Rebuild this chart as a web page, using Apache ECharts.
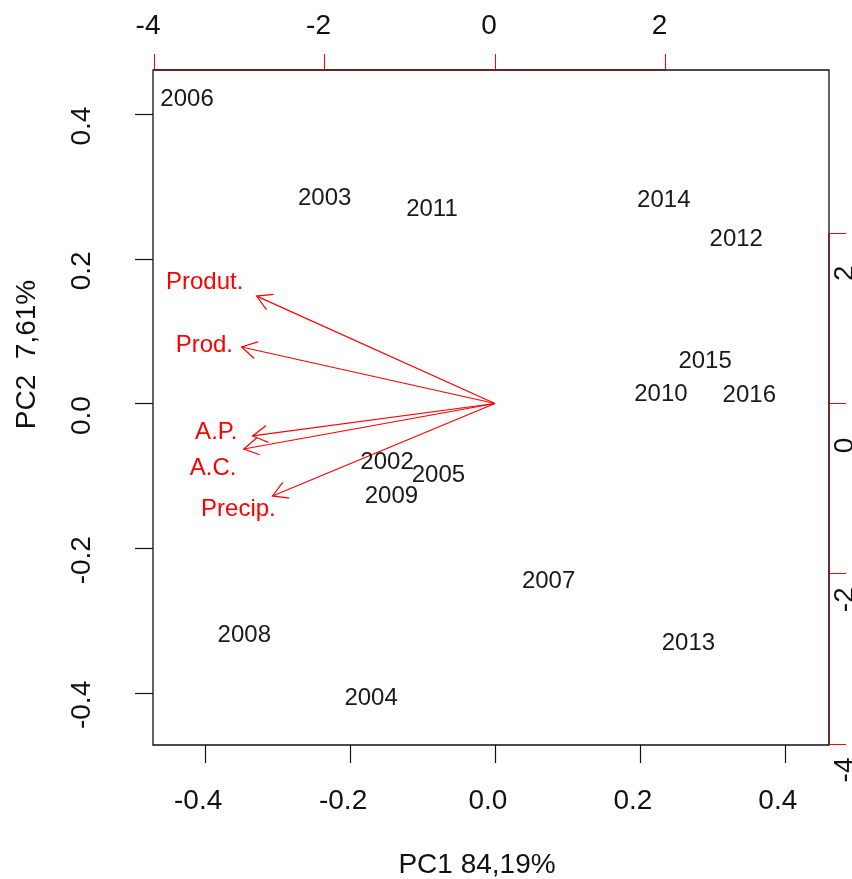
<!DOCTYPE html>
<html>
<head>
<meta charset="utf-8">
<script src="https://cdn.jsdelivr.net/npm/echarts@6/dist/echarts.min.js"></script>
<style>
  html, body { margin: 0; padding: 0; background: #fff; }
  #chart { width: 852px; height: 879px; }
</style>
</head>
<body>
<div id="chart"></div>
<script>
// PCA biplot: year scores (PC1 / PC2) and variable loadings drawn as arrows.
const years = ['2006', '2003', '2011', '2014', '2012', '2015', '2010', '2016',
               '2002', '2005', '2009', '2007', '2008', '2013', '2004'];
const pc1Scores = [-0.425, -0.235, -0.087, 0.233, 0.333, 0.290, 0.229, 0.351,
                   -0.149, -0.078, -0.143, 0.074, -0.346, 0.267, -0.171];
const pc2Scores = [0.420, 0.284, 0.269, 0.281, 0.227, 0.058, 0.012, 0.011,
                   -0.081, -0.099, -0.129, -0.246, -0.320, -0.331, -0.407];

// Variable loadings (secondary scale) and where their names sit.
const variables = ['Produt.', 'Prod.', 'A.P.', 'A.C.', 'Precip.'];
const loadPC1 = [-2.796, -2.972, -2.843, -2.948, -2.610];
const loadPC2 = [1.262, 0.664, -0.381, -0.534, -1.086];
const varLabelPC1 = [-3.406, -3.41, -3.27, -3.306, -3.01];
const varLabelPC2 = [1.42, 0.687, -0.340, -0.757, -1.24];

// Axis ticks
const scoreTicks = [-0.4, -0.2, 0.0, 0.2, 0.4];
const loadTicks = [-4, -2, 0, 2];

const xTitle = 'PC1 84,19%';
const yTitle = 'PC2  7,61%';

// Common limits for both score axes, loading axes are a scaled copy
const scoreLim = [-0.472, 0.461];
const loadRatio = 8.5;
const loadLim = scoreLim.map(v => v * loadRatio);

const FONT = '"Liberation Sans", Arial, Helvetica, sans-serif';
const TXT = '#111';
const RED = '#ff0000';
const AXRED = '#6e1616';

// rotated labels on the right axis sit a little below their ticks
const rightShift = { '2': 40, '0': 42, '-2': 26, '-4': 26 };
const rightRich = {};
loadTicks.forEach((t, i) => {
  rightRich['r' + i] = { fontSize: 28, fontFamily: FONT, color: TXT, padding: [0, rightShift[String(t)] * 2, 0, 0] };
});

const chart = echarts.init(document.getElementById('chart'), null, { renderer: 'canvas' });

const option = {
  animation: false,
  backgroundColor: '#fff',
  textStyle: { fontFamily: FONT },
  grid: {
    left: 153, right: 23, top: 70, bottom: 134,
    containLabel: false, outerBoundsMode: 'none',
    show: true, borderColor: '#111', borderWidth: 1.3, backgroundColor: 'transparent'
  },
  xAxis: [
    {
      type: 'value', position: 'bottom', min: scoreLim[0], max: scoreLim[1],
      splitLine: { show: false },
      axisLine: { show: false, onZero: false },
      axisTick: { show: true, customValues: scoreTicks, length: 18, lineStyle: { color: '#111', width: 1.2 } },
      axisLabel: {
        customValues: scoreTicks, formatter: v => v.toFixed(1),
        fontSize: 28, fontFamily: FONT, color: TXT, margin: 42, padding: [0, 14, 0, 0]
      },
      name: xTitle, nameLocation: 'middle', nameGap: 106,
      nameTextStyle: { fontSize: 28, fontFamily: FONT, color: TXT, padding: [0, 28, 0, 0] }
    },
    {
      type: 'value', position: 'top', min: loadLim[0], max: loadLim[1],
      splitLine: { show: false },
      axisLine: { show: false, onZero: false },
      axisTick: { show: true, customValues: loadTicks, length: 16, lineStyle: { color: RED, width: 1 } },
      axisLabel: {
        customValues: loadTicks, formatter: v => String(v),
        fontSize: 28, fontFamily: FONT, color: TXT, margin: 30, padding: [0, 12, 0, 0]
      }
    }
  ],
  yAxis: [
    {
      type: 'value', position: 'left', min: scoreLim[0], max: scoreLim[1],
      splitLine: { show: false },
      axisLine: { show: false, onZero: false },
      axisTick: { show: true, customValues: scoreTicks, length: 18, lineStyle: { color: '#111', width: 1.2 } },
      axisLabel: {
        customValues: scoreTicks, formatter: v => v.toFixed(1), rotate: 90,
        fontSize: 28, fontFamily: FONT, color: TXT, margin: 57, padding: [0, 24, 0, 0]
      },
      name: yTitle, nameLocation: 'middle', nameGap: 112,
      nameTextStyle: { fontSize: 28, fontFamily: FONT, color: TXT, padding: [0, 0, 0, 106] }
    },
    {
      type: 'value', position: 'right', min: loadLim[0], max: loadLim[1],
      splitLine: { show: false },
      axisLine: { show: false, onZero: false },
      axisTick: { show: true, customValues: loadTicks, length: 17, lineStyle: { color: RED, width: 1 } },
      axisLabel: {
        customValues: loadTicks, rotate: 90, margin: 2,
        formatter: v => '{r' + loadTicks.indexOf(v) + '|' + v + '}',
        rich: rightRich
      }
    }
  ],
  series: [
    // year labels
    {
      type: 'scatter', xAxisIndex: 0, yAxisIndex: 0, silent: true,
      symbol: 'circle', symbolSize: 1, itemStyle: { color: 'rgba(0,0,0,0)', opacity: 1 },
      data: years.map((y, i) => ({ name: y, value: [pc1Scores[i], pc2Scores[i]] })),
      label: {
        show: true, position: 'inside', formatter: p => p.name,
        fontSize: 24, fontFamily: FONT, color: '#1a1a1a', textBorderWidth: 0
      }
    },
    // loading arrows with open heads
    {
      type: 'custom', xAxisIndex: 1, yAxisIndex: 1, silent: true, clip: false,
      data: loadPC1.map((x, i) => [x, loadPC2[i]]),
      renderItem: (params, api) => {
        const o = api.coord([0, 0]);
        const t = api.coord([api.value(0), api.value(1)]);
        const ang = Math.atan2(t[1] - o[1], t[0] - o[0]);
        const hl = 17, spread = Math.PI / 6;
        const h1 = [t[0] - hl * Math.cos(ang - spread), t[1] - hl * Math.sin(ang - spread)];
        const h2 = [t[0] - hl * Math.cos(ang + spread), t[1] - hl * Math.sin(ang + spread)];
        const st = { stroke: RED, lineWidth: 1.2, fill: null };
        return {
          type: 'group',
          children: [
            { type: 'line', shape: { x1: o[0], y1: o[1], x2: t[0], y2: t[1] }, style: st },
            { type: 'polyline', shape: { points: [h1, t, h2] }, style: st }
          ]
        };
      }
    },
    // loading names
    {
      type: 'scatter', xAxisIndex: 1, yAxisIndex: 1, silent: true,
      symbol: 'circle', symbolSize: 1, itemStyle: { color: 'rgba(0,0,0,0)', opacity: 1 },
      data: variables.map((v, i) => ({ name: v, value: [varLabelPC1[i], varLabelPC2[i]] })),
      label: {
        show: true, position: 'inside', formatter: p => p.name,
        fontSize: 24, fontFamily: FONT, color: RED, textBorderWidth: 0
      }
    },
    // secondary axis lines, spanning first to last tick
    {
      type: 'line', xAxisIndex: 1, yAxisIndex: 1, silent: true, clip: false,
      symbol: 'none', lineStyle: { color: AXRED, width: 1.4 },
      data: [[loadTicks[0], loadLim[1]], [loadTicks[loadTicks.length - 1], loadLim[1]]]
    },
    {
      type: 'line', xAxisIndex: 1, yAxisIndex: 1, silent: true, clip: false,
      symbol: 'none', lineStyle: { color: AXRED, width: 1.4 },
      data: [[loadLim[1], loadTicks[0]], [loadLim[1], loadTicks[loadTicks.length - 1]]]
    }
  ]
};

chart.setOption(option);
</script>
</body>
</html>
